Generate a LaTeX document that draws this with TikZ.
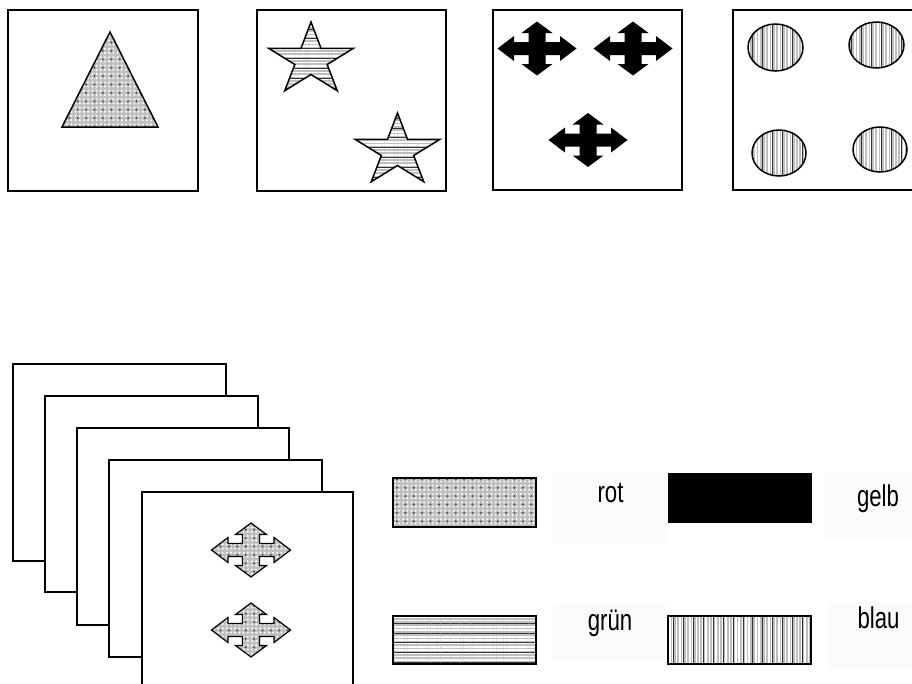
\documentclass[tikz,border=0pt]{standalone}
\usepackage{fontspec}
\setmainfont{Liberation Sans}
\usetikzlibrary{patterns.meta}
\tikzset{
  frame/.style={draw=black, line width=1.6pt, fill=white},
  outl/.style={draw=black, line width=1.5pt, line join=miter},
  dotfill/.style={preaction={fill=gray!50},
    preaction={pattern={Dots[distance=4.2pt,radius=1.1pt]}, pattern color=white},
    preaction={pattern={Dots[distance=8.4pt,radius=1.1pt,xshift=2.1pt,yshift=2.1pt]}, pattern color=black!70}},
  hstripe/.style={preaction={fill=gray!50},
    preaction={pattern={Lines[angle=0,distance=3.3pt,line width=1.6pt]}, pattern color=white},
    preaction={pattern={Lines[angle=0,distance=9.9pt,line width=1pt,yshift=0.5pt]}, pattern color=black!80}},
  vstripe/.style={preaction={fill=gray!50},
    preaction={pattern={Lines[angle=90,distance=3.3pt,line width=1.6pt]}, pattern color=white},
    preaction={pattern={Lines[angle=90,distance=9.9pt,line width=1pt,xshift=0.5pt]}, pattern color=black!80}},
  solid black/.style={fill=black},
  lowcross/.style={dotfill, draw=black, line width=1.2pt},
  labelbg/.style={fill=black!1.5, draw=none},
  lbl/.style={anchor=base, inner sep=0pt, font=\fontsize{30}{30}\selectfont},
}
\begin{document}
\begin{tikzpicture}[x=1pt,y=-1pt]
\useasboundingbox (0,0) rectangle (912,683);
\clip (0,0) rectangle (912,683);
% ---- top row frames
\draw[frame] (8,10) rectangle (198,191);
\draw[frame] (257,10) rectangle (446,191);
\draw[frame] (493,10) rectangle (682,190);
\draw[frame] (733,10) rectangle (925,190);
% triangle
\path[dotfill, outl] (110,32) -- (158,127) -- (62,127) -- cycle;
% stars
\foreach \cx/\cy in {311/60, 397.5/151}
  \path[hstripe, outl] plot[samples at={0,...,9}]
    ({\cx + ifthenelse(mod(\x,2)==0,44.7,17)*cos(90+36*\x)},
     {\cy - ifthenelse(mod(\x,2)==0,38,14.5)*sin(90+36*\x)}) -- cycle;
% ellipses
\path[vstripe, outl] (775.5,47.5) ellipse [x radius=27.5, y radius=23.5];
\path[vstripe, outl] (876.5,45) ellipse [x radius=27.5, y radius=23];
\path[vstripe, outl] (779,153) ellipse [x radius=27, y radius=23];
\path[vstripe, outl] (880,149.5) ellipse [x radius=27, y radius=22.5];
% ---- stack of pages
\draw[frame] (13,364) rectangle (226,561);
\draw[frame] (45,396) rectangle (258,592);
\draw[frame] (77,428) rectangle (289,625);
\draw[frame] (109,460) rectangle (322,657);
\draw[frame] (142,492) rectangle (353,700);
% ---- four-way arrows (black ones top, dotted ones on the front page)
\foreach \cx/\cy/\st in {537/48.5/solid black, 633/48.5/solid black, 588/140/solid black, 251/550/lowcross, 251/630/lowcross}
  \path[\st, shift={(\cx,\cy)}] (0,-27) -- (15.5,-15.5) -- (8.5,-15.5) -- (8.5,-6.5) -- (23,-6.5) -- (23,-12.5) -- (39.5,0) -- (23,12.5) -- (23,6.5) -- (8.5,6.5) -- (8.5,15.5) -- (15.5,15.5) -- (0,27) -- (-15.5,15.5) -- (-8.5,15.5) -- (-8.5,6.5) -- (-23,6.5) -- (-23,12.5) -- (-39.5,0) -- (-23,-12.5) -- (-23,-6.5) -- (-8.5,-6.5) -- (-8.5,-15.5) -- (-15.5,-15.5) -- cycle;
% ---- legend
\path[labelbg] (553,473) rectangle (667,543);
\path[labelbg] (825,472) rectangle (912,540);
\path[labelbg] (553,603) rectangle (665,662);
\path[labelbg] (827,602) rectangle (912,670);
\path[dotfill, outl] (393,478) rectangle (536,527);
\path[fill=black, draw=black, line width=1pt] (668,473) rectangle (811,522);
\path[hstripe, outl] (393,616) rectangle (536,664);
\path[vstripe, outl] (668,616) rectangle (811,664);
\node[lbl] (trot) at (610.5,502.7) {\scalebox{0.74}[1]{rot}};
\node[lbl] (tgelb) at (878,506.7) {\scalebox{0.74}[1]{gelb}};
\node[lbl] (tgruen) at (610,630) {\scalebox{0.74}[1]{grün}};
\node[lbl] (tblau) at (878.5,628) {\scalebox{0.74}[1]{blau}};
\end{tikzpicture}
\end{document}
